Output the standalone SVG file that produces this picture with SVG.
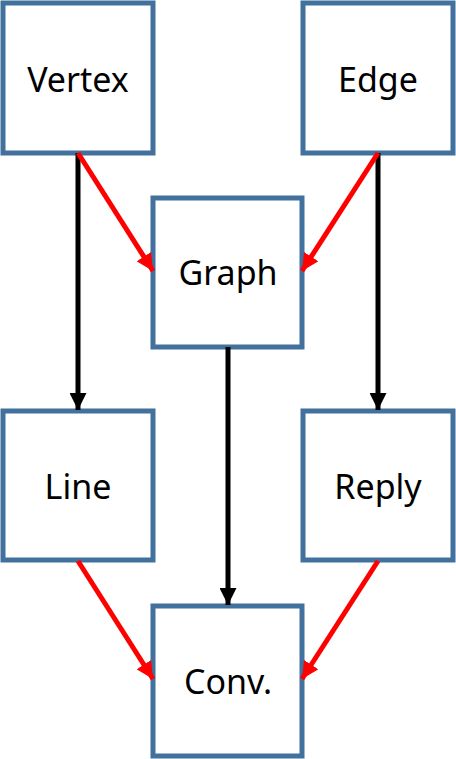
<svg xmlns="http://www.w3.org/2000/svg" width="456" height="759" viewBox="0 0 456 759">
<style>
.box rect{fill:#ffffff;stroke:#41719C;stroke-width:5}
.box text{font-family:"Noto Sans","Open Sans","DejaVu Sans",sans-serif;font-size:34px;fill:#000;text-anchor:middle}
.blk{stroke:#000;stroke-width:5;fill:none;marker-end:url(#ab)}
.red{stroke:#FF0000;stroke-width:5;fill:none;marker-end:url(#ar)}
</style>
<defs>
<marker id="ab" viewBox="0 0 10 10" refX="10" refY="5" markerUnits="userSpaceOnUse" markerWidth="17" markerHeight="17" orient="auto"><path d="M0,0 L10,5 L0,10 z" fill="#000"/></marker>
<marker id="ar" viewBox="0 0 10 10" refX="10" refY="5" markerUnits="userSpaceOnUse" markerWidth="17" markerHeight="17" orient="auto"><path d="M0,0 L10,5 L0,10 z" fill="#FF0000"/></marker>
</defs>
<g id="n-vertex" class="box"><rect x="3" y="3" width="150" height="150"/><text x="78" y="92">Vertex</text></g>
<g id="n-edge" class="box"><rect x="303" y="3" width="150" height="150"/><text x="378" y="92">Edge</text></g>
<g id="n-graph" class="box"><rect x="153" y="198" width="149" height="149"/><text x="228" y="285">Graph</text></g>
<g id="n-line" class="box"><rect x="3" y="411" width="150" height="149"/><text x="78" y="499">Line</text></g>
<g id="n-reply" class="box"><rect x="303" y="411" width="150" height="149"/><text x="378" y="499">Reply</text></g>
<g id="n-conv" class="box"><rect x="153" y="606" width="149" height="150"/><text x="228" y="694">Conv.</text></g>
<g id="connectors">
<line class="blk" x1="78" y1="153" x2="78" y2="410"/>
<line class="blk" x1="378" y1="153" x2="378" y2="410"/>
<line class="blk" x1="228" y1="347" x2="228" y2="605"/>
<line class="red" x1="78" y1="153" x2="153" y2="271"/>
<line class="red" x1="378" y1="153" x2="302" y2="271"/>
<line class="red" x1="78" y1="561" x2="153" y2="679"/>
<line class="red" x1="378" y1="561" x2="302" y2="679"/>
</g>
</svg>
